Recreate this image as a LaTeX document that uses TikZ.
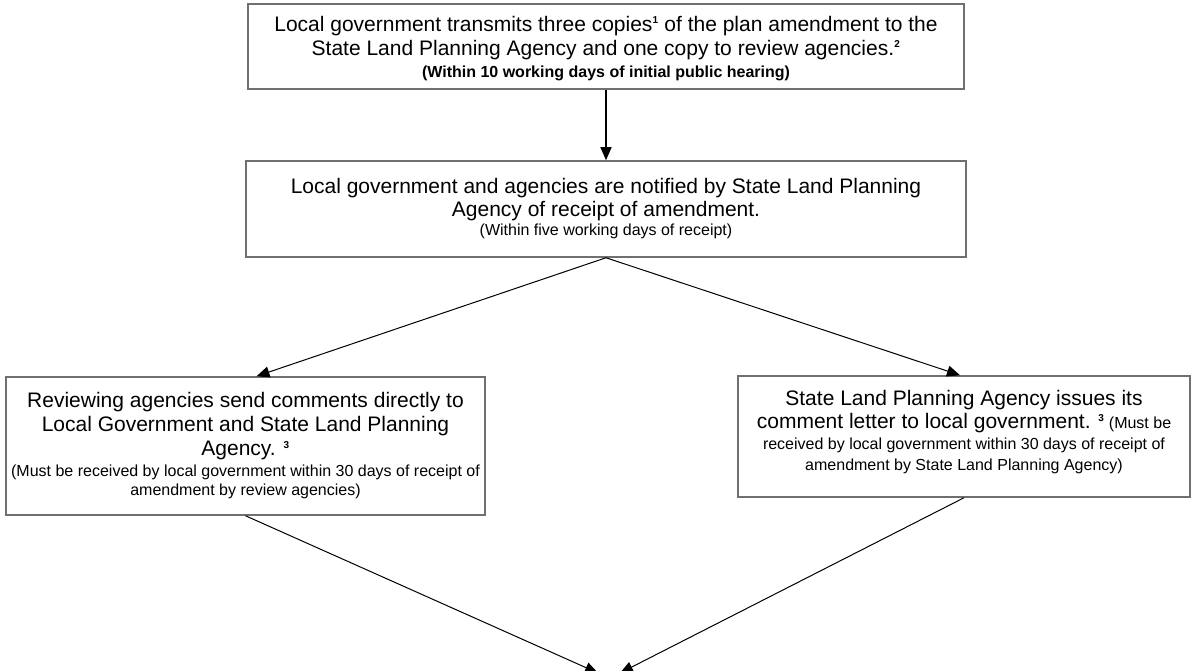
\documentclass[tikz,border=0pt]{standalone}
\usepackage{fontspec}
\setmainfont{Liberation Sans}
\usetikzlibrary{arrows.meta}
\begin{document}
\begin{tikzpicture}[x=1pt,y=-1pt,>={Triangle[length=13pt,width=11pt]}]
 \tikzstyle{stepbox} = [draw={rgb,255:red,112;green,112;blue,112},line width=1.5pt,inner sep=0pt,align=center,font=\mainsz]
 \tikzstyle{flow} = [->,line width=1pt]
 \newcommand{\mainsz}{\fontsize{21}{24}\selectfont}
 \newcommand{\notesz}{\fontsize{16}{19}\selectfont}
 \newcommand{\fn}[1]{\textsuperscript{\fontsize{10}{10}\selectfont\bfseries #1}}

 \useasboundingbox (0,0) rectangle (1193,671);

% Boxes
 \node[stepbox,minimum width=716,minimum height=85,text depth=0pt] (tr) at (606,46.5)
  {Local government transmits three copies\fn{1} of the plan amendment to the\\
   State Land Planning Agency and one copy to review agencies.\fn{2}\\[-2pt]
   {\notesz\bfseries (Within 10 working days of initial public hearing)}};
 \node[stepbox,minimum width=720,minimum height=96] (nt) at (606,209)
  {Local government and agencies are notified by State Land Planning\\[-1pt]
   Agency of receipt of amendment.\\[-5pt]
   {\notesz (Within five working days of receipt)}};
 \node[stepbox,minimum width=479,minimum height=138] (rv) at (245.5,446)
  {Reviewing agencies send comments directly to\\
   Local Government and State Land Planning\\
   Agency. \fn{3}\\[-3pt]
   {\notesz (Must be received by local government within 30 days of receipt of}\\[-5pt]
   {\notesz amendment by review agencies)}};
 \node[stepbox,minimum width=452,minimum height=121,text depth=12pt] (sl) at (964,436.5)
  {State Land Planning Agency issues its\\[-1pt]
   comment letter to local government. \fn{3}{\notesz\ (Must be}\\[-3pt]
   {\notesz received by local government within 30 days of receipt of}\\[-3pt]
   {\notesz amendment by State Land Planning Agency)}};

% Joins below the picture edge
 \coordinate (jl) at (598,673);
 \coordinate (jr) at (620,673);

% Arrows
 \draw[flow,line width=1.5pt] (tr) -- (nt);
 \draw[flow] (nt.south) -- ([xshift=11]rv.north);
 \draw[flow] (nt.south) -- ([xshift=-4]sl.north);
 \draw[flow] (rv.south) -- (jl);
 \draw[flow] (sl.south) -- (jr);
\end{tikzpicture}
\end{document}
